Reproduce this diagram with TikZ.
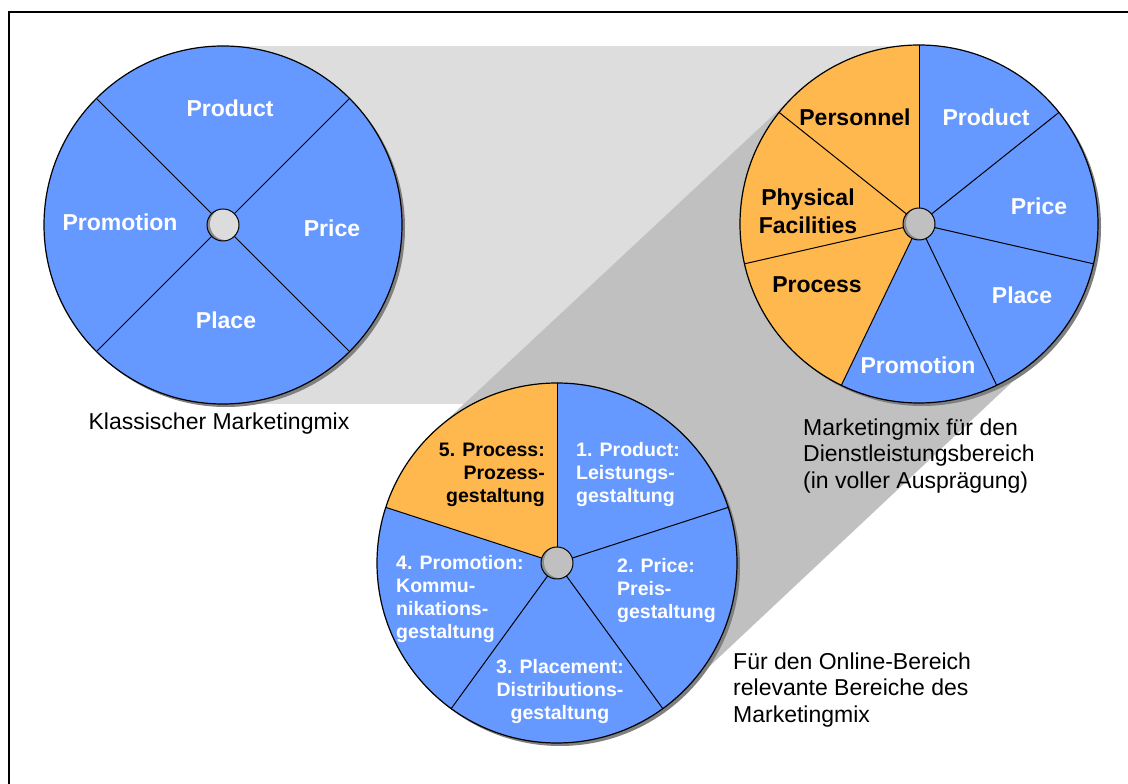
\documentclass[tikz,border=0pt]{standalone}
\usepackage{fontspec}
\setmainfont{Liberation Sans}
\usetikzlibrary{positioning}
\definecolor{mixblue}{RGB}{102,153,255}
\definecolor{mixorange}{RGB}{255,184,77}
\definecolor{bandlight}{RGB}{221,221,221}
\definecolor{banddark}{RGB}{192,192,192}
\definecolor{hublight}{RGB}{220,220,220}
\definecolor{hubgray}{RGB}{192,192,192}
\definecolor{hubshade}{RGB}{140,140,140}
\definecolor{rimshade}{RGB}{128,128,128}

\begin{document}
\begin{tikzpicture}[x=1pt,y=1pt,
  every node/.style={align=center, inner sep=0pt},
  mixlabel/.style={font=\fontsize{23}{28}\selectfont\bfseries, text=white},
  extralabel/.style={mixlabel, text=black},
  onlinelabel/.style={font=\fontsize{19.5}{23}\selectfont\bfseries, text=white, align=left},
  caption/.style={font=\fontsize{23}{26.5}\selectfont, align=left},
  spoke/.style={draw=black, line width=1pt},
  rim/.style={draw=black, line width=1.2pt}]
\useasboundingbox (0,0) rectangle (1128,784);

\coordinate (c1) at (223,559);
\coordinate (c2) at (919,560);
\coordinate (c3) at (557,221);

% background bands
\fill[bandlight] (223,380) rectangle (919,738);
\fill[banddark] (434,352) -- (797,691) -- (1041,429) -- (680,90) -- cycle;

% frame
\draw[line width=2pt] (9,0) -- (9,772) -- (1128,772);

% classic mix
\fill[rimshade] ([xshift=3pt,yshift=-3pt]c1) circle (179);
\fill[mixblue] (c1) circle (179);
\foreach \a in {45,135,225,315}
  \draw[spoke] (c1) -- ++(\a:179);
\draw[rim] (c1) circle (179);

% service mix
\fill[rimshade] ([xshift=3pt,yshift=-3pt]c2) circle (179);
\fill[mixblue] (c2) circle (179);
\fill[mixorange] (c2) -- ++(90:179) arc[start angle=90, end angle=244.29, radius=179] -- cycle;
\foreach \i in {0,...,6}
  \draw[spoke] (c2) -- ++(90+\i*51.4286:179);
\draw[rim] (c2) circle (179);

% online mix
\fill[rimshade] ([xshift=3pt,yshift=-3pt]c3) circle (180);
\fill[mixblue] (c3) circle (180);
\fill[mixorange] (c3) -- ++(90:180) arc[start angle=90, end angle=162, radius=180] -- cycle;
\foreach \i in {0,...,4}
  \draw[spoke] (c3) -- ++(90+\i*72:180);
\draw[rim] (c3) circle (180);

% hubs
\foreach \c/\col in {c1/hublight, c2/hubgray, c3/hubgray} {
  \begin{scope}
    \clip (\c) circle (16);
    \fill[hubshade] (\c) circle (16);
    \fill[\col] ([xshift=3pt,yshift=1pt]\c) circle (16);
  \end{scope}
  \draw[line width=1pt] (\c) circle (16);
}

% labels
\node (product1) [mixlabel] at (230,676) {Product};
\node (price1) [mixlabel] at (332,556) {Price};
\node (place1) [mixlabel] at (226,464) {Place};
\node (promotion1) [mixlabel] at (120,562) {Promotion};

\node (personnel2) [extralabel] at (855,667) {Personnel};
\node (physical2) [extralabel] at (808,573) {Physical\\Facilities};
\node (process2) [extralabel] at (817,499) {Process};
\node (product2) [mixlabel] at (986,667) {Product};
\node (price2) [mixlabel] at (1039,578) {Price};
\node (place2) [mixlabel] at (1022,489) {Place};
\node (promotion2) [mixlabel] at (918,419) {Promotion};

\node (product3) [onlinelabel, anchor=west] at (576,309) {1. Product:\\Leistungs-\\gestaltung};
\node (price3) [onlinelabel, anchor=west] at (617,193) {2. Price:\\Preis-\\gestaltung};
\node (place3) [onlinelabel, align=center] at (560,92) {3. Placement:\\Distributions-\\gestaltung};
\node (promotion3) [onlinelabel, anchor=west] at (396,185) {4. Promotion:\\Kommu-\\nikations-\\gestaltung};
\node (process3) [onlinelabel, text=black, align=right, anchor=east] at (545,309) {5. Process:\\Prozess-\\gestaltung};

% captions
\node (capclassic) [caption, align=center] at (219,360) {Klassischer Marketingmix};
\node (capservice) [caption, anchor=west] at (803,328) {Marketingmix für den\\Dienstleistungsbereich\\(in voller Ausprägung)};
\node (caponline) [caption, anchor=west] at (733,94) {Für den Online-Bereich\\relevante Bereiche des\\Marketingmix};
\end{tikzpicture}
\end{document}
